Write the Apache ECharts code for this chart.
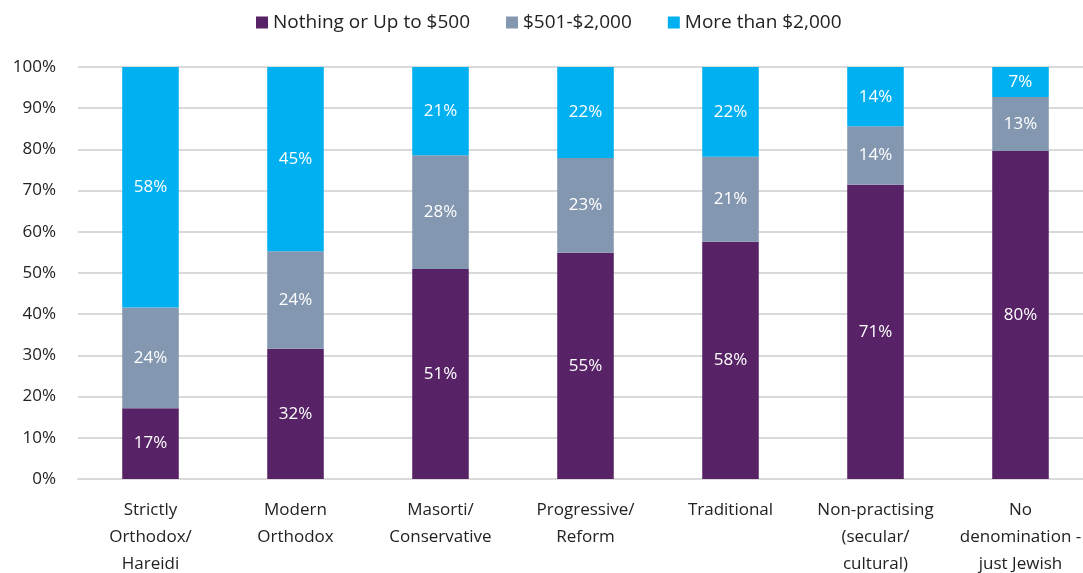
<!DOCTYPE html>
<html>
<head>
<meta charset="utf-8">
<script src="https://cdn.jsdelivr.net/npm/echarts@6/dist/echarts.min.js"></script>
<style>
  html, body { margin: 0; padding: 0; background: #fff; overflow: hidden; }
  #main { width: 1083px; height: 573px; }
</style>
</head>
<body>
<div id="main"></div>
<script>
var categories = [
  'Strictly\nOrthodox/\nHareidi',
  'Modern\nOrthodox',
  'Masorti/\nConservative',
  'Progressive/\nReform',
  'Traditional',
  'Non-practising\n(secular/\ncultural)',
  'No\ndenomination -\njust Jewish'
];
var upTo500 = [17.2, 31.6, 51.0, 54.9, 57.6, 71.4, 79.6];
var mid501to2000 = [24.4, 23.7, 27.6, 23.0, 20.6, 14.2, 13.1];
var over2000 = [58.4, 44.7, 21.4, 22.1, 21.8, 14.4, 7.3];
var yTicks = [0, 10, 20, 30, 40, 50, 60, 70, 80, 90, 100];

var chartDom = document.getElementById('main');
var myChart = echarts.init(chartDom);
var fontFamily = '"Open Sans", Lato, sans-serif';

function makeSeries(name, data, color) {
  return {
    name: name,
    type: 'bar',
    stack: 'total',
    barWidth: '39%',
    data: data,
    itemStyle: { color: color },
    label: {
      show: true,
      color: '#fff',
      fontSize: 17,
      fontFamily: fontFamily,
      formatter: function (p) { return Math.round(p.value) + '%'; }
    }
  };
}

var option = {
  animation: false,
  textStyle: { fontFamily: fontFamily },
  legend: {
    top: 8,
    left: 251,
    itemWidth: 12,
    itemHeight: 12,
    itemGap: 36,
    icon: 'rect',
    textStyle: { fontSize: 19, color: '#222', fontFamily: fontFamily },
    data: ['Nothing or Up to $500', '$501-$2,000', 'More than $2,000']
  },
  grid: {
    left: 78, width: 1015, top: 67, bottom: 94,
    containLabel: false,
    outerBoundsMode: 'none'
  },
  xAxis: {
    type: 'category',
    data: categories,
    axisTick: { show: false },
    axisLine: { lineStyle: { color: '#d9d9d9', width: 2 } },
    axisLabel: {
      interval: 0,
      color: '#222',
      fontSize: 17,
      lineHeight: 27,
      margin: 18,
      fontFamily: fontFamily
    }
  },
  yAxis: {
    type: 'value',
    min: 0,
    max: 100,
    interval: 10,
    axisLine: { show: false },
    axisTick: { show: false },
    splitLine: { lineStyle: { color: '#d9d9d9', width: 2 } },
    axisLabel: {
      color: '#222',
      fontSize: 17,
      margin: 22,
      fontFamily: fontFamily,
      formatter: function (v) { return yTicks.indexOf(v) >= 0 ? v + '%' : ''; }
    }
  },
  series: [
    makeSeries('Nothing or Up to $500', upTo500, '#582366'),
    makeSeries('$501-$2,000', mid501to2000, '#8497b0'),
    makeSeries('More than $2,000', over2000, '#00b0f0')
  ]
};

option && myChart.setOption(option);
</script>
</body>
</html>
